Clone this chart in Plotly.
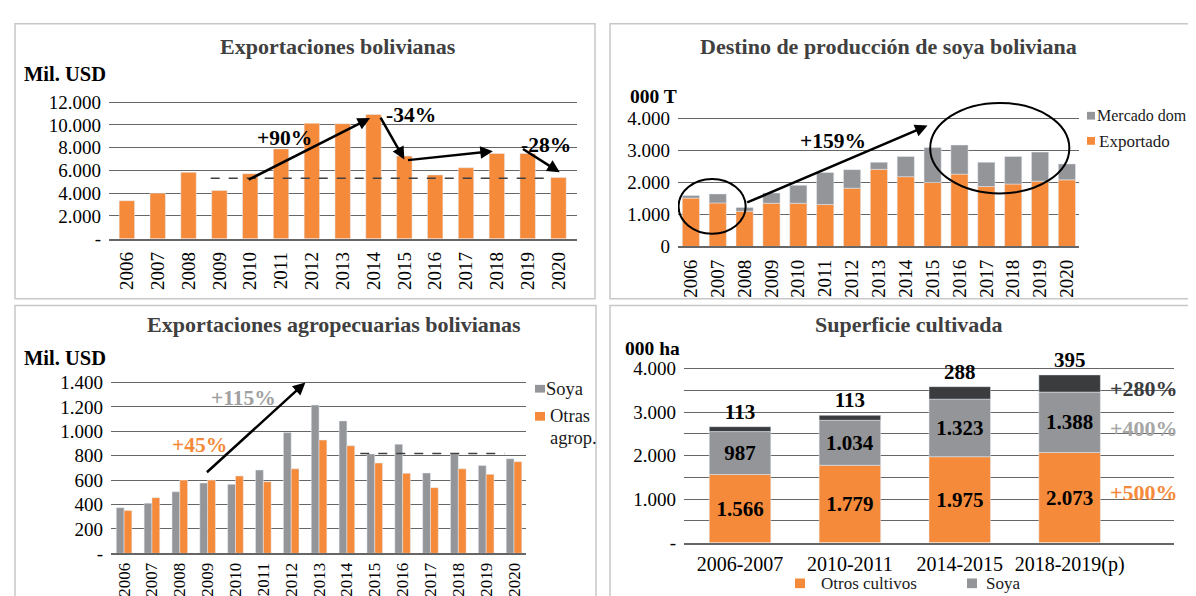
import plotly.graph_objects as go
import numpy as np

# ---------------- DATA ----------------
years = [str(y) for y in range(2006, 2021)]

# Panel 1: Exportaciones bolivianas (Mil. USD)
exportaciones = [3340, 4000, 5830, 4230, 5710, 7890, 10140, 10110, 10910, 7260, 5600, 6230, 7490, 7480, 5370]
exp_ticks = [0, 2000, 4000, 6000, 8000, 10000, 12000]
exp_ticktext = ["-", "2.000", "4.000", "6.000", "8.000", "10.000", "12.000"]

# Panel 2: Destino de producción de soya (000 T)
soya_exportado = [1510, 1360, 1100, 1350, 1350, 1310, 1820, 2410, 2180, 2000, 2260, 1870, 1950, 2040, 2080]
soya_mercado_dom = [80, 280, 120, 320, 560, 1000, 580, 220, 630, 1090, 910, 760, 860, 910, 500]
soy_ticks = [0, 1000, 2000, 3000, 4000]
soy_ticktext = ["0", "1.000", "2.000", "3.000", "4.000"]

# Panel 3: Exportaciones agropecuarias (Mil. USD)
agro_soya = [374, 411, 504, 576, 565, 682, 989, 1215, 1085, 814, 894, 658, 814, 719, 775]
agro_otras = [350, 456, 600, 600, 634, 586, 692, 928, 881, 740, 655, 538, 692, 647, 751]
agro_ticks = [0, 200, 400, 600, 800, 1000, 1200, 1400]
agro_ticktext = ["-", "200", "400", "600", "800", "1.000", "1.200", "1.400"]

# Panel 4: Superficie cultivada (000 ha)
periodos = ["2006-2007", "2010-2011", "2014-2015", "2018-2019(p)"]
sup_otros = [1566, 1779, 1975, 2073]
sup_soya = [987, 1034, 1323, 1388]
sup_tercera = [113, 113, 288, 395]
sup_ticks = [0, 1000, 2000, 3000, 4000]
sup_ticktext = ["-", "1.000", "2.000", "3.000", "4.000"]

# ---------------- STYLE ----------------
W, H = 1196, 596
FONT = "Liberation Serif"
ORANGE = "#F48A3A"
GRAY = "#939598"
DARK = "#3A3C3E"
GRID = "#666666"
TITLE_C = "#404040"


def fx(px):
    return px / W


def fy(py):
    return 1 - py / H


def fmt(v):
    return f"{v:,}".replace(",", ".")


fig = go.Figure()

# Panel 1
fig.add_trace(go.Bar(x=years, y=exportaciones, name="Exportaciones", marker_color=ORANGE,
                     width=0.5, xaxis="x", yaxis="y", showlegend=False))

# Panel 2 (stacked via base)
fig.add_trace(go.Bar(x=years, y=soya_exportado, name="Exportado", marker_color=ORANGE,
                     width=0.64, xaxis="x2", yaxis="y2", showlegend=False))
fig.add_trace(go.Bar(x=years, y=soya_mercado_dom, base=soya_exportado, name="Mercado dom",
                     marker_color=GRAY, width=0.64, xaxis="x2", yaxis="y2", showlegend=False))

# Panel 3 (grouped)
fig.add_trace(go.Bar(x=years, y=agro_soya, name="Soya", marker_color=GRAY,
                     width=0.28, offset=-0.28, xaxis="x3", yaxis="y3", showlegend=False))
fig.add_trace(go.Bar(x=years, y=agro_otras, name="Otras agrop.", marker_color=ORANGE,
                     width=0.28, offset=0.0, xaxis="x3", yaxis="y3", showlegend=False))

# Panel 4 (stacked via base)
base2 = list(np.array(sup_otros))
base3 = list(np.array(sup_otros) + np.array(sup_soya))
lblfont = dict(family=FONT, size=21, color="black")
fig.add_trace(go.Bar(x=periodos, y=sup_otros, name="Otros cultivos", marker_color=ORANGE,
                     width=0.56, xaxis="x4", yaxis="y4", showlegend=False,
                     text=[f"<b>{fmt(v)}</b>" for v in sup_otros], textposition="inside",
                     insidetextanchor="middle", textfont=lblfont, insidetextfont=lblfont,
                     constraintext="none", textangle=0))
fig.add_trace(go.Bar(x=periodos, y=sup_soya, base=base2, name="Soya", marker_color=GRAY,
                     width=0.56, xaxis="x4", yaxis="y4", showlegend=False,
                     text=[f"<b>{fmt(v)}</b>" for v in sup_soya], textposition="inside",
                     insidetextanchor="middle", textfont=lblfont, insidetextfont=lblfont,
                     constraintext="none", textangle=0))
fig.add_trace(go.Bar(x=periodos, y=sup_tercera, base=base3, name="Otros", marker_color=DARK,
                     width=0.56, xaxis="x4", yaxis="y4", showlegend=False,
                     text=[f"<b>{fmt(v)}</b>" for v in sup_tercera], textposition="outside",
                     textfont=lblfont, outsidetextfont=lblfont, cliponaxis=False,
                     constraintext="none", textangle=0))

tickfont = dict(family=FONT, size=19, color="black")


def xaxis(dom, rng, anchor, angle=-90, size=19, standoff=4):
    return dict(domain=[fx(dom[0]), fx(dom[1])], range=rng, type="category", anchor=anchor,
                showgrid=False, zeroline=False, showline=True, linecolor=GRID, linewidth=1.5,
                ticks="", tickangle=angle, tickfont=dict(family=FONT, size=size, color="black"),
                ticklabelstandoff=standoff, fixedrange=True)


def yaxis(dom, rng, anchor, tv, tt, minor=None):
    d = dict(domain=[fy(dom[1]), fy(dom[0])], range=rng, anchor=anchor,
             showgrid=True, gridcolor=GRID, gridwidth=1.2, zeroline=False, showline=False,
             ticks="", tickvals=tv, ticktext=tt, tickfont=tickfont, ticklabelstandoff=7,
             fixedrange=True)
    if minor:
        d["minor"] = dict(tickvals=minor, showgrid=True, gridcolor=GRID, gridwidth=1.2, ticks="")
    return d


layout = dict(
    width=W, height=H, autosize=False,
    margin=dict(l=0, r=0, t=0, b=0),
    paper_bgcolor="white", plot_bgcolor="rgba(0,0,0,0)",
    barmode="overlay",
    font=dict(family=FONT, color="black"),
    xaxis=xaxis((101, 569), [-0.58, 14.6], "y", standoff=4),
    yaxis=yaxis((87, 230), [0, 12170], "x", exp_ticks, exp_ticktext),
    xaxis2=xaxis((670, 1071), [-0.48, 14.45], "y2", standoff=4),
    yaxis2=yaxis((86, 238), [0, 4600], "x2", soy_ticks, soy_ticktext),
    xaxis3=xaxis((103, 518), [-0.47, 14.43], "y3", size=17, standoff=1),
    yaxis3=yaxis((376, 555), [0, 1420], "x3", agro_ticks, agro_ticktext),
    xaxis4=xaxis((676, 1166), [-0.51, 3.95], "y4", angle=0, size=20, standoff=3),
    yaxis4=yaxis((362, 544), [0, 4050], "x4", sup_ticks, sup_ticktext, minor=[500, 1500, 2500, 3500]),
)
fig.update_layout(**layout)

shapes = []
# panel borders
for (x0, y0, x1, y1) in [(7, 8, 587, 292), (602, 8, 1200, 292), (7, 299, 588, 600), (602, 299, 1200, 600)]:
    shapes.append(dict(type="rect", xref="paper", yref="paper", x0=fx(x0), x1=fx(x1), y0=fy(y1), y1=fy(y0),
                       line=dict(color="#c8c8c8", width=1.5), fillcolor="rgba(0,0,0,0)", layer="below"))
# dashed reference lines
shapes.append(dict(type="line", xref="x", yref="y", x0=2.72, x1=13.8, y0=5314, y1=5314,
                   line=dict(color="#404040", width=1.5, dash="dash")))
shapes.append(dict(type="line", xref="x3", yref="y3", x0=8.48, x1=13.66, y0=817, y1=817,
                   line=dict(color="#404040", width=1.5, dash="dash")))
# ellipses panel 2
shapes.append(dict(type="circle", xref="x2", yref="y2", x0=-0.46, x1=2.04, y0=394, y1=2111,
                   line=dict(color="black", width=2)))
shapes.append(dict(type="circle", xref="x2", yref="y2", x0=8.91, x1=14.09, y0=1657, y1=4485,
                   line=dict(color="black", width=2)))
# legend squares
for (x0, y0, x1, y1, c) in [(1079, 99, 1087, 107, GRAY), (1079, 125, 1087, 133, ORANGE),
                            (527, 381, 537, 389, GRAY), (527, 409, 537, 418, ORANGE),
                            (787, 581, 797, 591, ORANGE), (959, 581, 969, 591, GRAY)]:
    shapes.append(dict(type="rect", xref="paper", yref="paper", x0=fx(x0), x1=fx(x1), y0=fy(y1), y1=fy(y0),
                       line=dict(width=0), fillcolor=c))

anns = []


def txt(x, y, text, size=18, color="black", xanchor="center", xref="paper", yref="paper"):
    ax = fx(x) if xref == "paper" else x
    ay = fy(y) if yref == "paper" else y
    anns.append(dict(x=ax, y=ay, xref=xref, yref=yref, text=text, showarrow=False,
                     xanchor=xanchor, yanchor="middle", borderpad=0,
                     font=dict(family=FONT, size=size, color=color)))


def arrow(tx, ty, hx, hy, xr, yr):
    anns.append(dict(x=hx, y=hy, ax=tx, ay=ty, xref=xr, yref=yr, axref=xr, ayref=yr, text="",
                     showarrow=True, arrowhead=2, arrowsize=1, arrowwidth=2.5, arrowcolor="black",
                     standoff=0, startstandoff=0))


# titles
txt(330, 31, "<b>Exportaciones bolivianas</b>", 22, TITLE_C)
txt(880, 31, "<b>Destino de producción de soya boliviana</b>", 22, TITLE_C)
txt(326, 319, "<b>Exportaciones agropecuarias bolivianas</b>", 22, TITLE_C)
txt(901, 319, "<b>Superficie cultivada</b>", 22, TITLE_C)
# unit labels
txt(15, 60, "<b>Mil. USD</b>", 20.5, "black", "left")
txt(621, 83, "<b>000 T</b>", 19.5, "black", "left")
txt(15, 353, "<b>Mil. USD</b>", 20.5, "black", "left")
txt(616, 343, "<b>000 ha</b>", 19.5, "black", "left")
# legends
txt(1088, 103, "Mercado dom", 16, "#1a1a1a", "left")
txt(1090, 130, "Exportado", 17, "#1a1a1a", "left")
txt(537, 385, "Soya", 18.5, "#1a1a1a", "left")
txt(541, 413, "Otras", 18.5, "#1a1a1a", "left")
txt(541, 436, "agrop.", 18.5, "#1a1a1a", "left")
txt(812, 586, "Otros cultivos", 17, "#1a1a1a", "left")
txt(977, 586, "Soya", 17, "#1a1a1a", "left")

# panel 1 arrows & labels
arrow(3.9, 5114, 7.89, 10600, "x", "y")
arrow(8.2, 10770, 9.0, 6970, "x", "y")
arrow(9.07, 6890, 11.87, 7690, "x", "y")
arrow(12.8, 7970, 14.04, 5830, "x", "y")
txt(5.1, 8830, "<b>+90%</b>", 21.5, "black", "center", "x", "y")
txt(8.38, 10830, "<b>-34%</b>", 21.5, "black", "left", "x", "y")
txt(13.6, 8260, "<b>-28%</b>", 21.5, "black", "center", "x", "y")

# panel 2
arrow(2.04, 1354, 8.81, 3778, "x2", "y2")
txt(5.28, 3300, "<b>+159%</b>", 21.5, "black", "center", "x2", "y2")

# panel 3
arrow(2.92, 653, 6.51, 1400, "x3", "y3")
txt(4.3, 1275, "<b>+115%</b>", 21.5, "#a0a0a0", "center", "x3", "y3")
txt(2.72, 886, "<b>+45%</b>", 21.5, ORANGE, "center", "x3", "y3")

# panel 4 growth labels
txt(1136, 3554, "<b>+280%</b>", 22, DARK, "center", "paper", "y4")
txt(1136, 2627, "<b>+400%</b>", 22, "#a6a6a6", "center", "paper", "y4")
txt(1136, 1148, "<b>+500%</b>", 22, ORANGE, "center", "paper", "y4")

fig.update_layout(shapes=shapes, annotations=anns)
fig.write_html("out.html")
